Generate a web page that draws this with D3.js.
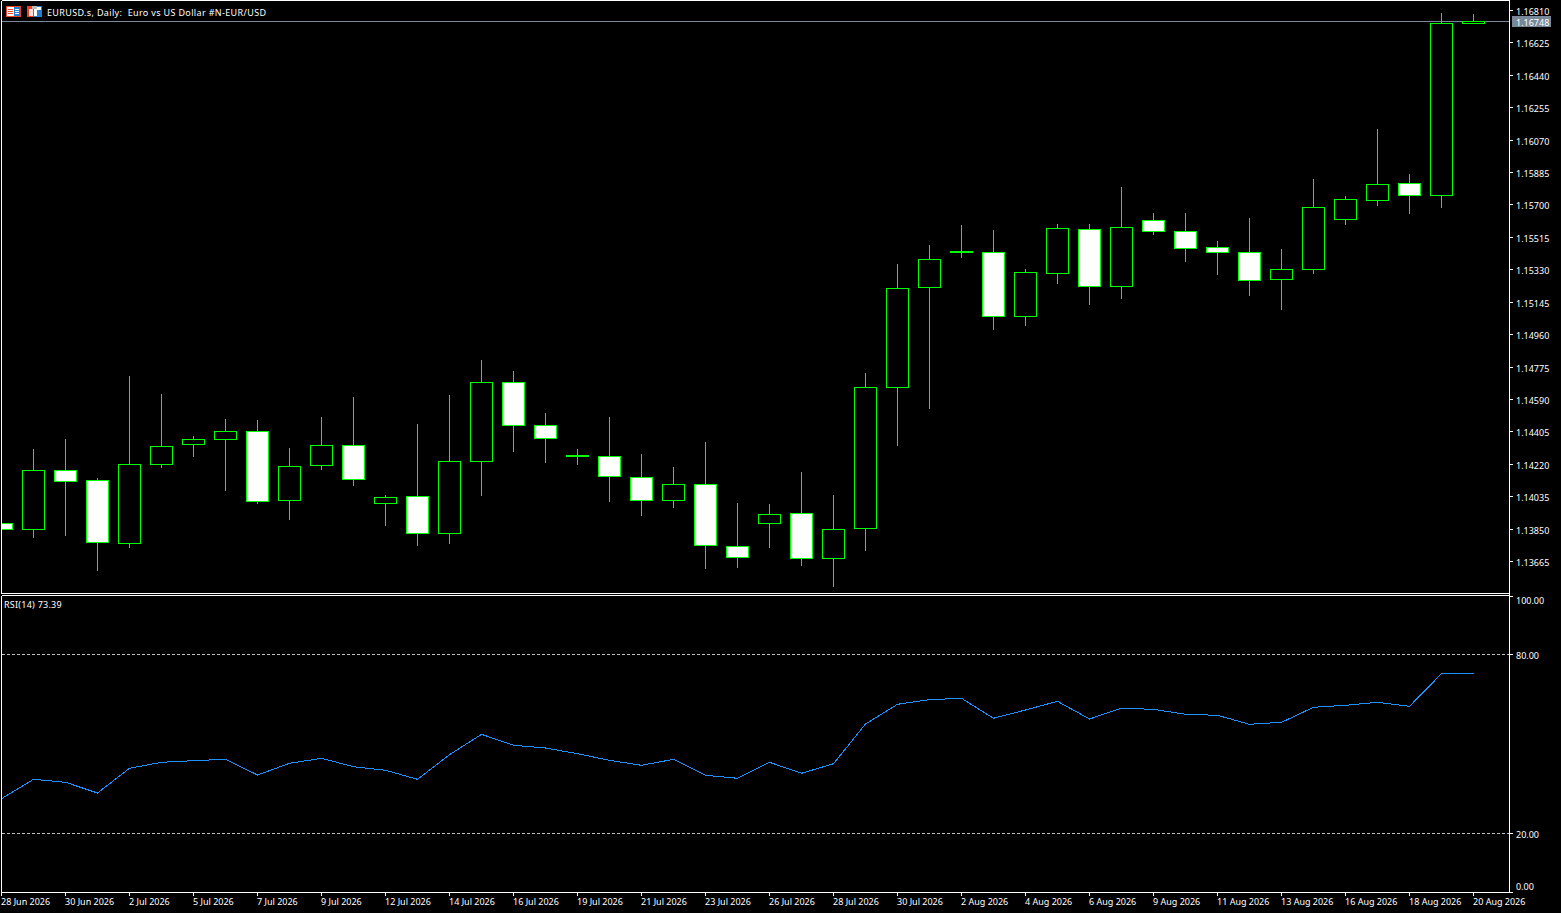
<!DOCTYPE html>
<html>

<head>
    <meta charset="UTF-8">
    <style>
        html, body { margin: 0; padding: 0; background: #000; }
        svg { display: block; }
        text { font-family: "Noto Sans", sans-serif; font-size: 9px; fill: #fff; }
        .crisp { shape-rendering: crispEdges; }
    </style>
</head>

<body>
    <svg></svg>

    <script src="https://d3js.org/d3.v7.min.js"></script>

    <script>
        let width = 1561, height = 913;

        const opens = [1.13882, 1.13848, 1.14184, 1.14127, 1.13768, 1.14219, 1.14333, 1.14361, 1.14407, 1.14013, 1.14213, 1.14327, 1.13996, 1.14036, 1.13825, 1.14236, 1.14687, 1.14441, 1.14270, 1.14264, 1.14144, 1.14013, 1.14104, 1.13751, 1.13882, 1.13939, 1.13682, 1.13853, 1.14658, 1.15229, 1.15434, 1.15429, 1.15063, 1.15309, 1.15560, 1.15235, 1.15611, 1.15549, 1.15457, 1.15429, 1.15275, 1.15332, 1.15617, 1.15726, 1.15823, 1.15754, 1.16736];
        const highs = [1.13882, 1.14304, 1.14361, 1.14139, 1.14721, 1.14618, 1.14378, 1.14475, 1.14470, 1.14310, 1.14487, 1.14601, 1.14042, 1.14447, 1.14612, 1.14812, 1.14749, 1.14510, 1.14304, 1.14487, 1.14276, 1.14201, 1.14344, 1.13996, 1.13990, 1.14173, 1.14042, 1.14738, 1.15360, 1.15469, 1.15583, 1.15554, 1.15332, 1.15589, 1.15589, 1.15800, 1.15651, 1.15651, 1.15492, 1.15623, 1.15446, 1.15845, 1.15748, 1.16131, 1.15874, 1.16793, 1.16787];
        const lows = [1.13848, 1.13802, 1.13813, 1.13613, 1.13745, 1.14201, 1.14264, 1.14070, 1.13996, 1.13905, 1.14190, 1.14099, 1.13870, 1.13756, 1.13768, 1.14042, 1.14293, 1.14230, 1.14219, 1.14007, 1.13928, 1.13973, 1.13625, 1.13631, 1.13745, 1.13642, 1.13522, 1.13728, 1.14327, 1.14538, 1.15400, 1.14989, 1.15012, 1.15252, 1.15132, 1.15166, 1.15531, 1.15377, 1.15303, 1.15183, 1.15103, 1.15309, 1.15589, 1.15697, 1.15651, 1.15686, 1.16736];
        const closes = [1.13848, 1.14184, 1.14122, 1.13773, 1.14219, 1.14321, 1.14361, 1.14407, 1.14007, 1.14207, 1.14327, 1.14133, 1.14030, 1.13825, 1.14236, 1.14687, 1.14441, 1.14367, 1.14264, 1.14150, 1.14013, 1.14104, 1.13756, 1.13688, 1.13933, 1.13682, 1.13848, 1.14658, 1.15223, 1.15389, 1.15429, 1.15063, 1.15315, 1.15566, 1.15235, 1.15571, 1.15549, 1.15452, 1.15429, 1.15269, 1.15332, 1.15686, 1.15731, 1.15817, 1.15754, 1.16736, 1.16748];
        const rsiValues = [31.50, 38.00, 37.00, 33.41, 41.69, 43.70, 44.24, 44.70, 39.44, 43.36, 45.04, 42.23, 41.02, 38.00, 46.25, 53.08, 49.40, 48.49, 46.58, 44.37, 42.69, 44.70, 39.34, 38.34, 43.70, 40.01, 43.23, 56.53, 63.14, 64.68, 65.15, 58.45, 61.23, 64.14, 58.21, 61.80, 61.46, 59.79, 59.45, 56.43, 57.10, 62.13, 62.80, 63.81, 62.47, 73.39, 73.39];

        const priceTicks = [1.16810, 1.16625, 1.16440, 1.16255, 1.16070, 1.15885, 1.15700, 1.15515, 1.15330, 1.15145, 1.14960, 1.14775, 1.14590, 1.14405, 1.14220, 1.14035, 1.13850, 1.13665];
        const rsiTicks = [100, 80, 20, 0];
        const rsiLevels = [80, 20];
        const dateLabels = ["28 Jun 2026", "30 Jun 2026", "2 Jul 2026", "5 Jul 2026", "7 Jul 2026", "9 Jul 2026", "12 Jul 2026", "14 Jul 2026", "16 Jul 2026", "19 Jul 2026", "21 Jul 2026", "23 Jul 2026", "26 Jul 2026", "28 Jul 2026", "30 Jul 2026", "2 Aug 2026", "4 Aug 2026", "6 Aug 2026", "9 Aug 2026", "11 Aug 2026", "13 Aug 2026", "16 Aug 2026", "18 Aug 2026", "20 Aug 2026"];
        const lastPrice = 1.16748;

        let green = "#00ff00", frame = "#ffffff", slate = "#778899";
        let right = 1509, left = 1, mainBottom = 593, rsiTop = 595, rsiBottom = 892;

        let svg = d3.select("svg")
            .attr("width", width)
            .attr("height", height)
            .attr("viewBox", "0 0 " + width + " " + height);

        let x = d3.scaleLinear().domain([0, opens.length - 1]).range([1, 1473]);
        let yPrice = d3.scaleLinear().domain([1.16810, 1.13665]).range([10, 561]);
        let yRsi = d3.scaleLinear().domain([0, 100]).range([892.7, 594.3]);

        // snap everything to the pixel grid, the terminal does not antialias
        let row = (s, v) => Math.round(s(v)) + 0.5;
        let col = i => x(i) + 0.5;

        svg.append("defs").append("clipPath").attr("id", "main_clip")
            .append("rect").attr("x", left + 1).attr("y", 1).attr("width", right - left - 1).attr("height", mainBottom - 1);
        svg.select("defs").append("clipPath").attr("id", "rsi_clip")
            .append("rect").attr("x", left + 1).attr("y", rsiTop + 1).attr("width", right - left - 1).attr("height", rsiBottom - rsiTop - 1);

        let bars = opens.map((o, i) => ({ i: i, o: o, h: highs[i], l: lows[i], c: closes[i] }));

        // current price line goes behind the candles
        svg.append("line").attr("class", "crisp")
            .attr("x1", left).attr("x2", right)
            .attr("y1", row(yPrice, lastPrice)).attr("y2", row(yPrice, lastPrice))
            .attr("stroke", slate);

        let candles = svg.append("g").attr("class", "crisp").attr("clip-path", "url(#main_clip)")
            .selectAll("g")
            .data(bars)
            .enter()
            .append("g");

        candles.append("line")
            .attr("x1", d => col(d.i)).attr("x2", d => col(d.i))
            .attr("y1", d => row(yPrice, d.h) - 0.5).attr("y2", d => row(yPrice, d.l) + 0.5)
            .attr("stroke", green);

        candles.append("rect")
            .attr("x", d => col(d.i) - 11)
            .attr("width", 22)
            .attr("y", d => row(yPrice, Math.max(d.o, d.c)))
            .attr("height", d => row(yPrice, Math.min(d.o, d.c)) - row(yPrice, Math.max(d.o, d.c)))
            .attr("fill", d => d.c < d.o ? "#ffffff" : "#000000")
            .attr("stroke", green);

        // RSI panel
        svg.append("g").attr("class", "crisp")
            .selectAll("line")
            .data(rsiLevels)
            .enter()
            .append("line")
            .attr("x1", left + 1).attr("x2", right)
            .attr("y1", d => row(yRsi, d)).attr("y2", d => row(yRsi, d))
            .attr("stroke", "#c0c0c0")
            .attr("stroke-dasharray", "3 2");

        let rsiLine = d3.line().x((d, i) => col(i)).y(d => yRsi(d));

        svg.append("path").attr("class", "crisp")
            .attr("clip-path", "url(#rsi_clip)")
            .attr("d", rsiLine(rsiValues))
            .attr("fill", "none")
            .attr("stroke", "#1e90ff");

        // frames
        let frames = [
            [left, 0, right, 0], [left, 0, left, mainBottom], [right, 0, right, rsiBottom], [left, mainBottom, right, mainBottom],
            [left, rsiTop, right, rsiTop], [left, rsiTop, left, rsiBottom], [left, rsiBottom, right, rsiBottom]
        ];
        svg.append("g").attr("class", "crisp")
            .selectAll("line")
            .data(frames)
            .enter()
            .append("line")
            .attr("x1", d => d[0] + 0.5).attr("y1", d => d[1] + 0.5)
            .attr("x2", d => d[2] + 0.5).attr("y2", d => d[3] + 0.5)
            .attr("stroke", frame);

        // axes
        let priceAxis = svg.append("g")
            .attr("transform", "translate(" + right + ",0)")
            .call(d3.axisRight(yPrice).tickValues(priceTicks).tickSize(4).tickPadding(3).tickFormat(d3.format(".5f")));
        priceAxis.selectAll(".tick").attr("transform", d => "translate(0," + row(yPrice, d) + ")");
        priceAxis.selectAll(".tick text").attr("dy", "0.45em");

        let rsiAxis = svg.append("g")
            .attr("transform", "translate(" + right + ",0)")
            .call(d3.axisRight(yRsi).tickValues(rsiTicks).tickSize(4).tickPadding(3).tickFormat(d3.format(".2f")));
        rsiAxis.selectAll(".tick").attr("transform", d => "translate(0," + Math.min(Math.max(Math.round(yRsi(d)), 596), 892) + ".5)");
        // the end labels are pushed inside the panel
        rsiAxis.selectAll(".tick text").attr("dy", d => d == 100 ? "0.8em" : d == 0 ? "-0.3em" : "0.45em");

        let timeAxis = svg.append("g")
            .attr("transform", "translate(0," + rsiBottom + ")")
            .call(d3.axisBottom(x).tickValues(dateLabels.map((d, i) => i * 2)).tickSize(4).tickPadding(3).tickFormat(d => dateLabels[d / 2]));
        timeAxis.selectAll(".tick").attr("transform", d => "translate(" + col(d) + ",0)");
        timeAxis.selectAll(".tick text").attr("text-anchor", "start").attr("x", -0.5);

        [priceAxis, rsiAxis, timeAxis].forEach(a => {
            a.select(".domain").remove();
            a.attr("font-family", null).attr("font-size", null);
            a.selectAll("line").attr("stroke", frame).attr("class", "crisp");
        });

        // last price tag
        svg.append("rect").attr("class", "crisp")
            .attr("x", 1512).attr("y", 16).attr("width", 39).attr("height", 11)
            .attr("fill", slate);
        svg.append("text")
            .attr("x", 1516).attr("y", row(yPrice, lastPrice))
            .attr("dy", "0.45em")
            .text(d3.format(".5f")(lastPrice));

        // header
        svg.append("text").attr("x", 47).attr("y", 12).attr("dy", "0.4em")
            .attr("letter-spacing", 0.35)
            .text("EURUSD.s, Daily:  Euro vs US Dollar #N-EUR/USD")
            .style("white-space", "pre");
        svg.append("text").attr("x", 4).attr("y", 604.5).attr("dy", "0.4em")
            .attr("letter-spacing", 0.25)
            .text("RSI(14) 73.39");

        // the two small icons next to the header
        let icons = svg.append("g").attr("class", "crisp");
        icons.append("rect").attr("x", 6.5).attr("y", 6.5).attr("width", 14).attr("height", 10).attr("fill", "#fff").attr("stroke", "#e8412c");
        icons.append("rect").attr("x", 14).attr("y", 7).attr("width", 6).attr("height", 9).attr("fill", "#1f7fd0");
        [9, 11, 13].forEach(y => {
            icons.append("rect").attr("x", 8).attr("y", y).attr("width", 5).attr("height", 1).attr("fill", "#e8412c");
            icons.append("rect").attr("x", 15).attr("y", y).attr("width", 4).attr("height", 1).attr("fill", "#fff");
        });
        icons.append("rect").attr("x", 27.5).attr("y", 6.5).attr("width", 14).attr("height", 10).attr("fill", "#fff").attr("stroke", "#1f7fd0");
        icons.append("rect").attr("x", 27).attr("y", 6).attr("width", 7).attr("height", 11).attr("fill", "#e8412c");
        icons.append("rect").attr("x", 29).attr("y", 9).attr("width", 4).attr("height", 7).attr("fill", "#fde0d8");
        icons.append("rect").attr("x", 37).attr("y", 10).attr("width", 4).attr("height", 6).attr("fill", "#1f7fd0");
        icons.append("rect").attr("x", 32).attr("y", 6).attr("width", 5).attr("height", 3).attr("fill", "#bbbbbb");
    </script>

</body>

</html>
